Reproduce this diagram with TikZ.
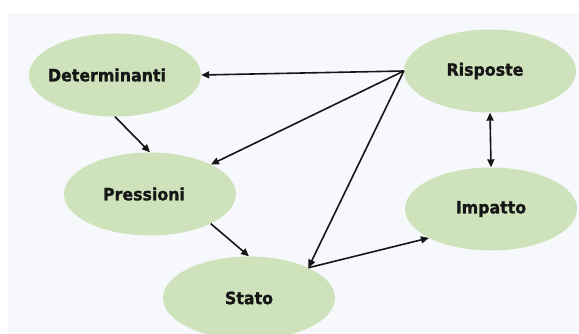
\documentclass[tikz,border=0pt]{standalone}
\usepackage{fontspec}
\setmainfont{DejaVu Sans}[FakeStretch=0.93,BoldFeatures={FakeBold=1.2}]
\usetikzlibrary{shapes.geometric,arrows.meta}
\definecolor{bgcol}{HTML}{F7F8FB}
\definecolor{leaf}{HTML}{CEE3BB}
\definecolor{ink}{HTML}{161616}
\tikzset{
  blob/.style={ellipse, fill=leaf, draw=none, inner sep=0pt,
    minimum width=172pt, minimum height=83pt,
    font=\fontsize{17}{20}\selectfont\bfseries, text=ink},
  link/.style={draw=ink, line width=1.6pt, -{Triangle[length=8pt,width=7pt]}},
  biglink/.style={draw=ink, line width=1.6pt, {Triangle[length=8pt,width=7pt]}-{Triangle[length=8pt,width=7pt]}}
}
\begin{document}
\begin{tikzpicture}[x=1pt,y=-1pt]
\useasboundingbox (0,0) rectangle (579,334);
\fill[white] (0,0) rectangle (579,334);
\fill[bgcol] (8,13) rectangle (579,334);
\node[blob] (D) at (115,75) {\hspace*{-16pt}Determinanti};
\node[blob] (P) at (150,194) {\hspace*{-12pt}Pressioni};
\node[blob] (S) at (249,298) {Stato};
\node[blob] (R) at (490,71) {\hspace*{-10pt}Risposte};
\node[blob] (I) at (491,209) {Impatto};
\draw[link] (R.west) -- (D.east);
\draw[link] (R.west) -- (P);
\draw[link] (R.west) -- (S.27);
\draw[link] (D.south) -- (P.north);
\draw[link] (P.-26) -- (S.north);
\draw[link] (S.27) -- (I.205);
\draw[biglink] (R.south) -- (I.north);
\end{tikzpicture}
\end{document}
